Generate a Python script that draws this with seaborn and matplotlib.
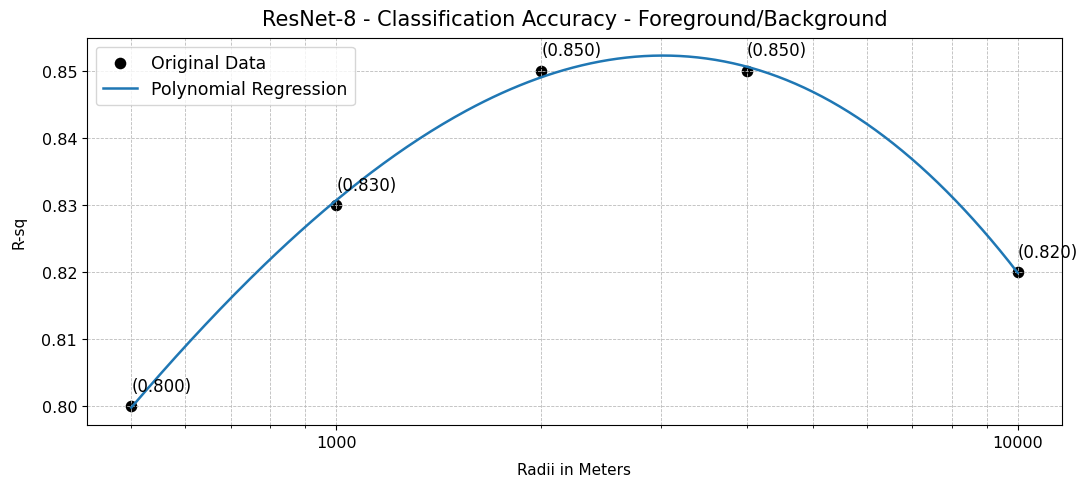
import numpy as np
import pandas as pd
import matplotlib
matplotlib.use("Agg")
import matplotlib.pyplot as plt
from matplotlib.ticker import ScalarFormatter
import seaborn as sns

radii = [500, 1000, 2000, 4000, 10000]
r_sq = [0.80, 0.83, 0.85, 0.85, 0.82]

df = pd.DataFrame({"radius": radii, "rsq": r_sq})

# polynomial regression in log-radius
coef = np.polyfit(np.log10(radii), r_sq, 3)
xs = np.logspace(np.log10(min(radii)), np.log10(max(radii)), 300)
fit = pd.DataFrame({"radius": xs, "rsq": np.polyval(coef, np.log10(xs))})

fig, ax = plt.subplots(figsize=(10.87, 4.81), dpi=100)
fig.subplots_adjust(left=0.080, right=0.977, top=0.919, bottom=0.114)

sns.scatterplot(data=df, x="radius", y="rsq", color="black", s=70, edgecolor="black",
                linewidth=0, label="Original Data", ax=ax, zorder=1)
sns.lineplot(data=fit, x="radius", y="rsq", color="#1f77b4", linewidth=1.8,
             label="Polynomial Regression", ax=ax, zorder=2)
ax.set_xscale("log")
ax.xaxis.set_major_formatter(ScalarFormatter())
for x, y in zip(radii, r_sq):
    ax.annotate(f"({y:.3f})", (x, y), xytext=(0, 8), textcoords="offset points",
                ha="left", va="bottom", fontsize=12)

ax.set_title("ResNet-8 - Classification Accuracy - Foreground/Background", fontsize=15, pad=9)
ax.set_xlabel("Radii in Meters", fontsize=11, labelpad=9)
ax.set_ylabel("R-sq", fontsize=11, labelpad=11)
ax.tick_params(labelsize=11.5)
ax.grid(True, which="both", linestyle="--", linewidth=0.6, color="#bbbbbb")
ax.legend(loc="upper left", fontsize=12.5)
fig.savefig("out.png", dpi=100)
